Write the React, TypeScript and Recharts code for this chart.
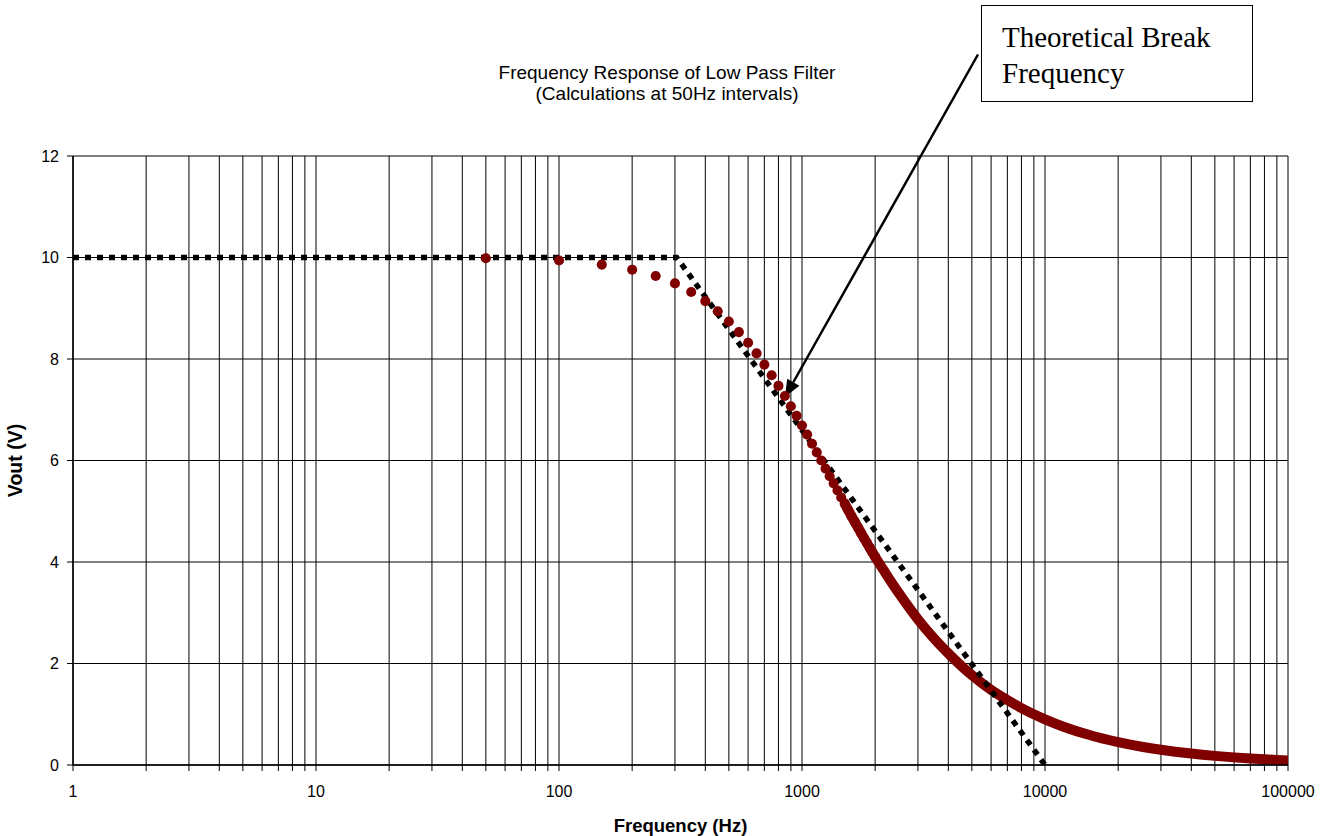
import React from 'react';
import {
  ComposedChart, Scatter, Line, XAxis, YAxis, ZAxis, CartesianGrid, ReferenceLine,
} from 'recharts';

const freqDots = [
  50, 100, 150, 200, 250, 300, 350, 400, 450, 500, 550, 600, 650, 700, 750, 800, 850, 900, 950, 1000,
  1050, 1100, 1150, 1200, 1250, 1300, 1350, 1400, 1450, 1500, 1550, 1600, 1650, 1700, 1750, 1800, 1850, 1900, 1950, 2000,
];
const voutDots = [
  9.985, 9.94, 9.86, 9.76, 9.635, 9.49, 9.32, 9.14, 8.94, 8.74, 8.53, 8.32, 8.11, 7.89, 7.68, 7.47, 7.27, 7.07, 6.88, 6.69,
  6.51, 6.33, 6.16, 6.0, 5.84, 5.69, 5.55, 5.41, 5.27, 5.15, 5.02, 4.9, 4.79, 4.68, 4.57, 4.47, 4.38, 4.28, 4.19, 4.1,
];

// dense part of the curve where the markers merge into a band
const freqBand = [
  1500, 1600, 1700, 1800, 2000, 2200, 2500, 3000, 3500, 4000, 5000, 6000, 7000, 8000, 10000,
  12000, 15000, 20000, 25000, 30000, 40000, 50000, 60000, 70000, 80000, 90000, 100000,
];
const voutBand = [
  5.15, 4.9, 4.68, 4.47, 4.1, 3.79, 3.39, 2.87, 2.49, 2.2, 1.77, 1.48, 1.28, 1.12, 0.9,
  0.75, 0.6, 0.45, 0.36, 0.3, 0.225, 0.18, 0.15, 0.129, 0.113, 0.1, 0.09,
];

// straight-line approximation (dotted)
const freqAsym = [1, 305, 10000];
const voutAsym = [10, 10, 0];

const decades = [1, 10, 100, 1000, 10000, 100000];
const yTicks = [0, 2, 4, 6, 8, 10, 12];

const dots = freqDots.map((f, i) => ({ f, v: voutDots[i] }));
const band = freqBand.map((f, i) => ({ f, v: voutBand[i] }));
const asym = freqAsym.map((f, i) => ({ f, v: voutAsym[i] }));

const xTicks: number[] = [];
decades.slice(0, -1).forEach((d) => {
  for (let k = 1; k < 10; k++) xTicks.push(d * k);
});
xTicks.push(100000);

const font = '"Liberation Sans", Arial, sans-serif';

const Arrow = (props: any) => {
  const { x1, y1, x2, y2 } = props;
  const dx = x2 - x1;
  const dy = y2 - y1;
  const len = Math.sqrt(dx * dx + dy * dy);
  const ux = dx / len;
  const uy = dy / len;
  const hl = 17;
  const hw = 7;
  const bx = x2 - ux * hl;
  const by = y2 - uy * hl;
  const pts = `${x2},${y2} ${bx - uy * hw},${by + ux * hw} ${bx + uy * hw},${by - ux * hw}`;
  return (
    <g>
      <line x1={x1} y1={y1} x2={bx} y2={by} stroke="#000" strokeWidth={2.5} />
      <polygon points={pts} fill="#000" />
    </g>
  );
};

const App: React.FC = () => {
  return (
    <div style={{ position: 'absolute', left: 0, top: 0, width: 1328, height: 836, background: '#fff' }}>
      <div
        style={{
          position: 'absolute', left: 0, width: 1334, top: 62, textAlign: 'center',
          fontFamily: font, fontSize: 19, lineHeight: '21px', color: '#000',
        }}
      >
        Frequency Response of Low Pass Filter<br />(Calculations at 50Hz intervals)
      </div>
      <ComposedChart
        width={1328}
        height={836}
        margin={{ top: 156, right: 40, left: 0, bottom: 0 }}
        style={{ position: 'absolute', left: 0, top: 0 }}
      >
        <CartesianGrid stroke="#000" strokeWidth={1} />
        <XAxis
          dataKey="f"
          type="number"
          scale="log"
          domain={[1, 100000]}
          ticks={xTicks}
          interval={0}
          height={71}
          tickSize={6}
          tickMargin={15}
          tickFormatter={(v: number) => (decades.includes(v) ? String(v) : '')}
          tick={{ fill: '#000', fontSize: 16, fontFamily: font }}
          axisLine={{ stroke: '#000', strokeWidth: 1.5 }}
          tickLine={{ stroke: '#000' }}
          allowDataOverflow
          label={{
            value: 'Frequency (Hz)', position: 'insideBottom', offset: 4,
            style: { fill: '#000', fontSize: 18.5, fontWeight: 'bold', fontFamily: font },
          }}
        />
        <YAxis
          type="number"
          domain={[0, 12]}
          ticks={yTicks}
          width={73}
          tickSize={6}
          tickMargin={8}
          tick={{ fill: '#000', fontSize: 16, fontFamily: font }}
          axisLine={{ stroke: '#000', strokeWidth: 1.5 }}
          tickLine={{ stroke: '#000' }}
          label={{
            value: 'Vout (V)', angle: -90, position: 'insideLeft', offset: 15,
            style: { fill: '#000', fontSize: 19.5, fontWeight: 'bold', fontFamily: font, textAnchor: 'middle' },
          }}
        />
        <ZAxis range={[80, 80]} />
        <Scatter data={dots} dataKey="v" fill="#800000" isAnimationActive={false} />
        <Line
          data={band}
          dataKey="v"
          type="monotone"
          stroke="#800000"
          strokeWidth={10}
          strokeLinecap="round"
          dot={false}
          activeDot={false}
          isAnimationActive={false}
        />
        <Line
          data={asym}
          dataKey="v"
          type="linear"
          stroke="#000"
          strokeWidth={5.5}
          strokeDasharray="6 6"
          dot={false}
          activeDot={false}
          isAnimationActive={false}
        />
        <ReferenceLine
          segment={[{ x: 5300, y: 14 }, { x: 851, y: 7.25 }]}
          ifOverflow="visible"
          shape={Arrow}
        />
      </ComposedChart>
      <div
        style={{
          position: 'absolute', left: 981, top: 5, width: 272, height: 97,
          border: '1.5px solid #000', background: '#fff', boxSizing: 'border-box',
          fontFamily: '"Liberation Serif", "Times New Roman", serif', fontSize: 29,
          lineHeight: '36px', padding: '13px 0 0 20px', color: '#000',
        }}
      >
        Theoretical Break<br />Frequency
      </div>
    </div>
  );
};

export default App;
